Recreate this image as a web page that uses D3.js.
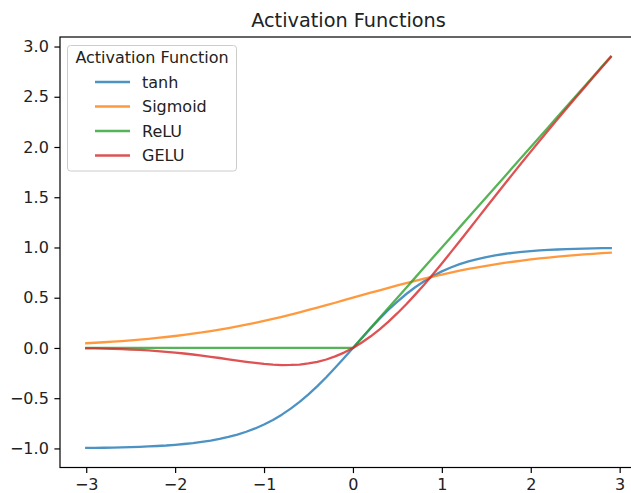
<!DOCTYPE html>
<html>
<head>
<meta charset="utf-8">
<script src="https://cdn.jsdelivr.net/npm/d3@7/dist/d3.min.js"></script>
<style>
  html, body { margin: 0; padding: 0; background: #fff; }
  svg { display: block; font-family: "DejaVu Sans", sans-serif; }
</style>
</head>
<body>
<svg id="chart" width="631" height="493"></svg>
<script>
// Sample points x = -3.0 ... 2.9 (step 0.1)
const xs = [-3.0,-2.9,-2.8,-2.7,-2.6,-2.5,-2.4,-2.3,-2.2,-2.1,-2.0,-1.9,-1.8,-1.7,-1.6,-1.5,-1.4,-1.3,-1.2,-1.1,
  -1.0,-0.9,-0.8,-0.7,-0.6,-0.5,-0.4,-0.3,-0.2,-0.1,0.0,0.1,0.2,0.3,0.4,0.5,0.6,0.7,0.8,0.9,
  1.0,1.1,1.2,1.3,1.4,1.5,1.6,1.7,1.8,1.9,2.0,2.1,2.2,2.3,2.4,2.5,2.6,2.7,2.8,2.9];

const tanhVals = [-0.995,-0.994,-0.993,-0.991,-0.989,-0.987,-0.984,-0.980,-0.976,-0.971,-0.964,-0.956,-0.947,-0.935,-0.922,-0.905,-0.885,-0.862,-0.834,-0.801,
  -0.762,-0.716,-0.664,-0.604,-0.537,-0.462,-0.380,-0.291,-0.197,-0.100,0.000,0.100,0.197,0.291,0.380,0.462,0.537,0.604,0.664,0.716,
  0.762,0.801,0.834,0.862,0.885,0.905,0.922,0.935,0.947,0.956,0.964,0.971,0.976,0.980,0.984,0.987,0.989,0.991,0.993,0.994];

const sigmoidVals = [0.047,0.052,0.057,0.063,0.069,0.076,0.083,0.091,0.100,0.109,0.119,0.130,0.142,0.154,0.168,0.182,0.198,0.214,0.231,0.250,
  0.269,0.289,0.310,0.332,0.354,0.378,0.401,0.426,0.450,0.475,0.500,0.525,0.550,0.574,0.599,0.622,0.646,0.668,0.690,0.711,
  0.731,0.750,0.769,0.786,0.802,0.818,0.832,0.846,0.858,0.870,0.881,0.891,0.900,0.909,0.917,0.924,0.931,0.937,0.943,0.948];

const reluVals = [0,0,0,0,0,0,0,0,0,0,0,0,0,0,0,0,0,0,0,0,
  0,0,0,0,0,0,0,0,0,0,0.0,0.1,0.2,0.3,0.4,0.5,0.6,0.7,0.8,0.9,
  1.0,1.1,1.2,1.3,1.4,1.5,1.6,1.7,1.8,1.9,2.0,2.1,2.2,2.3,2.4,2.5,2.6,2.7,2.8,2.9];

const geluVals = [-0.004,-0.005,-0.007,-0.009,-0.012,-0.016,-0.020,-0.025,-0.031,-0.038,-0.046,-0.055,-0.065,-0.076,-0.088,-0.100,-0.113,-0.126,-0.138,-0.149,
  -0.159,-0.166,-0.170,-0.169,-0.165,-0.154,-0.138,-0.115,-0.084,-0.046,0.000,0.054,0.116,0.185,0.262,0.346,0.435,0.531,0.630,0.734,
  0.841,0.951,1.062,1.174,1.287,1.400,1.512,1.624,1.735,1.845,1.954,2.062,2.169,2.275,2.380,2.485,2.588,2.691,2.793,2.894];

const seriesNames = ["tanh", "Sigmoid", "ReLU", "GELU"];
const seriesColors = ["#1f77b4", "#ff7f0e", "#2ca02c", "#d62728"];
const seriesValues = [tanhVals, sigmoidVals, reluVals, geluVals];

const xTicks = [-3, -2, -1, 0, 1, 2, 3];
const yTicks = [-1.0, -0.5, 0.0, 0.5, 1.0, 1.5, 2.0, 2.5, 3.0];

const titleText = "Activation Functions";
const legendTitle = "Activation Function";

// Axes box and data limits (5% padding around data range)
const box = { left: 60, right: 637, top: 37, bottom: 467.5 };
const allY = seriesValues.flat();
const xMin = d3.min(xs), xMax = d3.max(xs);
const yMin = d3.min(allY), yMax = d3.max(allY);
const xPad = (xMax - xMin) * 0.05, yPad = (yMax - yMin) * 0.05;

const x = d3.scaleLinear().domain([xMin - xPad, xMax + xPad]).range([box.left, box.right]);
const y = d3.scaleLinear().domain([yMin - yPad, yMax + yPad]).range([box.bottom, box.top]);

const svg = d3.select("#chart");
const minus = s => s.replace("-", "\u2212");
const tickFont = "16px";

// Lines
const line = d3.line().x((d, i) => x(xs[i])).y(d => y(d));
const plot = svg.append("g");
seriesValues.forEach((vals, k) => {
  plot.append("path")
    .datum(vals)
    .attr("d", line)
    .attr("fill", "none")
    .attr("stroke", seriesColors[k])
    .attr("stroke-width", 2.3)
    .attr("stroke-opacity", 0.8)
    .attr("stroke-linejoin", "round")
    .attr("stroke-linecap", "square");
});

// Axes
const xAxis = d3.axisBottom(x).tickValues(xTicks).tickSize(5.6).tickPadding(5.6)
  .tickFormat(d => minus(d3.format("d")(d)));
const yAxis = d3.axisLeft(y).tickValues(yTicks).tickSize(5.6).tickPadding(5.6)
  .tickFormat(d => minus(d3.format(".1f")(d)));

const gx = svg.append("g").attr("transform", `translate(0,${box.bottom})`).call(xAxis);
const gy = svg.append("g").attr("transform", `translate(${box.left},0)`).call(yAxis);
[gx, gy].forEach(g => {
  g.select(".domain").remove();
  g.selectAll(".tick line").attr("stroke", "#000").attr("stroke-width", 1.2);
  g.selectAll(".tick text").attr("fill", "#222").style("font-size", tickFont)
    .style("font-family", "'DejaVu Sans', sans-serif");
});

// Spines
svg.append("rect")
  .attr("x", box.left).attr("y", box.top)
  .attr("width", box.right - box.left).attr("height", box.bottom - box.top)
  .attr("fill", "none").attr("stroke", "#000").attr("stroke-width", 1.2);

// Title
svg.append("text")
  .attr("x", (box.left + box.right) / 2).attr("y", 27)
  .attr("text-anchor", "middle")
  .style("font-size", "19.3px").attr("fill", "#222")
  .text(titleText);

// Legend
const lg = svg.append("g");
lg.append("rect")
  .attr("x", 67.5).attr("y", 45.5).attr("width", 169).attr("height", 125.5)
  .attr("rx", 3).attr("ry", 3)
  .attr("fill", "#fff").attr("fill-opacity", 0.8)
  .attr("stroke", "#cccccc").attr("stroke-width", 1);
lg.append("text")
  .attr("x", 152).attr("y", 63)
  .attr("text-anchor", "middle")
  .style("font-size", tickFont).attr("fill", "#222")
  .text(legendTitle);
seriesNames.forEach((name, k) => {
  const yy = 82 + k * 24.5;
  lg.append("line")
    .attr("x1", 95).attr("x2", 130).attr("y1", yy).attr("y2", yy)
    .attr("stroke", seriesColors[k]).attr("stroke-width", 2.3).attr("stroke-opacity", 0.8);
  lg.append("text")
    .attr("x", 142).attr("y", yy + 5.5)
    .style("font-size", tickFont).attr("fill", "#222")
    .text(name);
});
</script>
</body>
</html>
